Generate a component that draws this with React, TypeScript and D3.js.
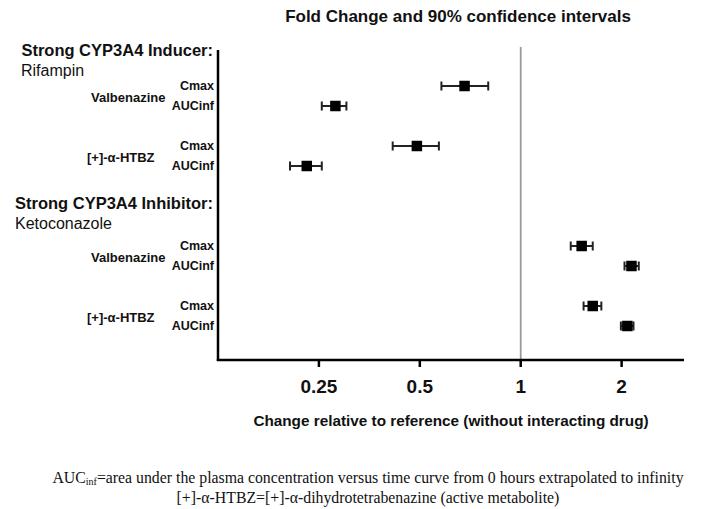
import React from "react";
import * as d3 from "d3";

const groupTitles = ["Strong CYP3A4 Inducer:", "Strong CYP3A4 Inhibitor:"];
const perpetrators = ["Rifampin", "Ketoconazole"];
const analytes = ["Valbenazine", "[+]-\u03b1-HTBZ"];
const metrics = ["Cmax", "AUCinf"];
// order: group -> analyte -> metric
const estimates = [0.68, 0.28, 0.49, 0.23, 1.52, 2.14, 1.64, 2.08];
const lowerCI = [0.58, 0.255, 0.415, 0.205, 1.41, 2.04, 1.54, 1.99];
const upperCI = [0.8, 0.302, 0.57, 0.255, 1.64, 2.25, 1.74, 2.17];
const xTicks = [0.25, 0.5, 1, 2];
const xTickLabels = ["0.25", "0.5", "1", "2"];

const W = 718;
const H = 509;
const SANS = "'Liberation Sans', Arial, Helvetica, sans-serif";
const SERIF = "'Liberation Serif', 'Times New Roman', serif";

export default function App() {
  const left = 218;
  const right = 684;
  const bottom = 360;
  const x = d3.scaleLog().base(2).domain([0.125, 3.07]).range([left, right]);
  const y = d3.scaleLinear().domain([0, 12]).range([86, 326]);

  const rows = estimates.map((est, i) => {
    const g = Math.floor(i / 4);
    const a = Math.floor((i % 4) / 2);
    const m = i % 2;
    return { est, lo: lowerCI[i], hi: upperCI[i], g, a, m, slot: g * 8 + a * 3 + m };
  });

  const headerY = [56, 209];
  const subY = [76, 229];
  const headerRight = 213;
  const analyteX = [91, 87];

  return (
    <svg
      width={W}
      height={H}
      style={{ position: "absolute", left: 0, top: 0, background: "#fff" }}
      fontFamily={SANS}
    >
      <rect width={W} height={H} fill="#fff" />
      <text x={458} y={22} textAnchor="middle" fontWeight="bold" fontSize={17} fill="#111">
        Fold Change and 90% confidence intervals
      </text>

      {/* reference line at 1 */}
      <line x1={x(1)} x2={x(1)} y1={47} y2={bottom} stroke="#999" strokeWidth={1.8} />

      {/* axes */}
      <line x1={left} x2={left} y1={50} y2={bottom + 1} stroke="#000" strokeWidth={2.5} />
      <line x1={left - 1.2} x2={right} y1={bottom} y2={bottom} stroke="#000" strokeWidth={2.5} />
      {xTicks.map((t, i) => (
        <g key={t}>
          <line x1={x(t)} x2={x(t)} y1={bottom} y2={bottom + 7} stroke="#000" strokeWidth={2.5} />
          <text x={x(t)} y={393} textAnchor="middle" fontWeight="bold" fontSize={19} fill="#111">
            {xTickLabels[i]}
          </text>
        </g>
      ))}
      <text x={451} y={426} textAnchor="middle" fontWeight="bold" fontSize={15.3} fill="#111">
        Change relative to reference (without interacting drug)
      </text>

      {/* group headers */}
      {groupTitles.map((t, g) => (
        <g key={t}>
          <text x={headerRight} y={headerY[g]} textAnchor="end" fontWeight="bold" fontSize={16.5} fill="#111">
            {t}
          </text>
        </g>
      ))}
      <text x={21} y={subY[0]} fontSize={16} fill="#111">{perpetrators[0]}</text>
      <text x={15} y={subY[1]} fontSize={16} fill="#111">{perpetrators[1]}</text>

      {/* analyte labels */}
      {[0, 1].map((g) =>
        analytes.map((an, a) => (
          <text
            key={`${g}-${a}`}
            x={analyteX[a]}
            y={(y(g * 8 + a * 3) + y(g * 8 + a * 3 + 1)) / 2 + 1}
            dy="0.35em"
            fontWeight="bold"
            fontSize={13}
            fill="#111"
          >
            {an}
          </text>
        ))
      )}

      {/* metric labels and points */}
      {rows.map((r, i) => {
        const cy = y(r.slot);
        const s = 10.5;
        return (
          <g key={i}>
            <text x={214} y={cy} dy="0.35em" textAnchor="end" fontWeight="bold" fontSize={12.5} fill="#111">
              {metrics[r.m]}
            </text>
            <line x1={x(r.lo)} x2={x(r.hi)} y1={cy} y2={cy} stroke="#222" strokeWidth={2} />
            <line x1={x(r.lo)} x2={x(r.lo)} y1={cy - 4.5} y2={cy + 4.5} stroke="#222" strokeWidth={2} />
            <line x1={x(r.hi)} x2={x(r.hi)} y1={cy - 4.5} y2={cy + 4.5} stroke="#222" strokeWidth={2} />
            <rect x={x(r.est) - s / 2} y={cy - s / 2} width={s} height={s} fill="#000" />
          </g>
        );
      })}

      {/* footnotes */}
      <text x={368} y={483} textAnchor="middle" fontFamily={SERIF} fontSize={15.8} fill="#111">
        AUC<tspan fontSize={10} dy={2}>inf</tspan>
        <tspan dy={-2}>=area under the plasma concentration versus time curve from 0 hours extrapolated to infinity</tspan>
      </text>
      <text x={368} y={503} textAnchor="middle" fontFamily={SERIF} fontSize={15.8} fill="#111">
        [+]-{"\u03b1"}-HTBZ=[+]-{"\u03b1"}-dihydrotetrabenazine (active metabolite)
      </text>
    </svg>
  );
}
